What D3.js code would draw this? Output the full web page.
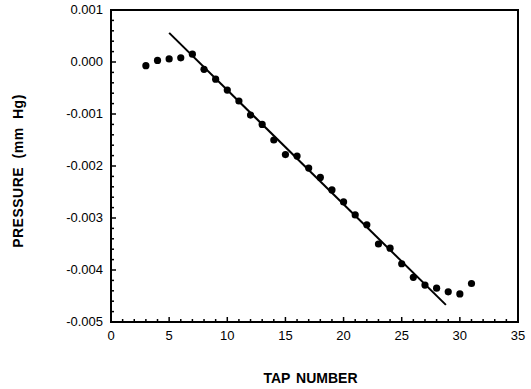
<!DOCTYPE html>
<html>
<head>
<meta charset="utf-8">
<script src="https://cdn.jsdelivr.net/npm/d3@7"></script>
<style>
  body { margin: 0; background: #fff; }
  text { font-family: "Liberation Sans", Arial, sans-serif; fill: #000; }
</style>
</head>
<body>
<div id="chart"></div>
<script>
// tap number vs pressure readings
var tapNumber = [3, 4, 5, 6, 7, 8, 9, 10, 11, 12, 13, 14, 15, 16, 17, 18, 19, 20, 21, 22, 23, 24, 25, 26, 27, 28, 29, 30, 31];
var pressure = [-0.00007, 0.00003, 0.00006, 0.00008, 0.00015, -0.00014, -0.00033, -0.00054, -0.00075, -0.00102,
                -0.0012, -0.0015, -0.00178, -0.00181, -0.00204, -0.00222, -0.00246, -0.00269, -0.00294, -0.00313,
                -0.0035, -0.00358, -0.00388, -0.00414, -0.00429, -0.00435, -0.00442, -0.00446, -0.00426];
// fitted straight line (end points)
var fitX = [5, 28.8];
var fitY = [0.00056, -0.00467];
var xTicks = [0, 5, 10, 15, 20, 25, 30, 35];
var yTicks = [0.001, 0.000, -0.001, -0.002, -0.003, -0.004, -0.005];

const width = 531, height = 389;
const margin = {top: 10, right: 13, bottom: 67, left: 111};

var svg = d3.select("#chart").append("svg")
    .attr("width", width)
    .attr("height", height);

var xScale = d3.scaleLinear().domain([0, 35]).range([margin.left, width - margin.right]);
var yScale = d3.scaleLinear().domain([-0.005, 0.001]).range([height - margin.bottom, margin.top]);

// minor ticks (inside)
var xMinor = d3.range(0, 36, 1);
var yMinor = d3.range(-0.005, 0.00101, 0.0002);

svg.selectAll("line.xminor")
    .data(xMinor)
    .join("line")
        .attr("class", "xminor")
        .attr("x1", d => xScale(d))
        .attr("x2", d => xScale(d))
        .attr("y1", yScale(-0.005))
        .attr("y2", d => yScale(-0.005) - (d % 5 == 0 ? 5 : 3))
        .attr("stroke", "#000")
        .attr("stroke-width", 1.5);

svg.selectAll("line.yminor")
    .data(yMinor)
    .join("line")
        .attr("class", "yminor")
        .attr("x1", xScale(0))
        .attr("x2", (d, i) => xScale(0) + (i % 5 == 0 ? 5 : 3))
        .attr("y1", d => yScale(d))
        .attr("y2", d => yScale(d))
        .attr("stroke", "#000")
        .attr("stroke-width", 1.5);

// frame
svg.append("rect")
    .attr("x", xScale(0))
    .attr("y", yScale(0.001))
    .attr("width", xScale(35) - xScale(0))
    .attr("height", yScale(-0.005) - yScale(0.001))
    .attr("fill", "none")
    .attr("stroke", "#000")
    .attr("stroke-width", 2);

// tick labels
svg.selectAll("text.xlab")
    .data(xTicks)
    .join("text")
        .attr("class", "xlab")
        .attr("x", d => xScale(d))
        .attr("y", yScale(-0.005) + 18)
        .attr("text-anchor", "middle")
        .attr("font-size", "13px")
        .text(d => d);

svg.selectAll("text.ylab")
    .data(yTicks)
    .join("text")
        .attr("class", "ylab")
        .attr("x", xScale(0) - 8)
        .attr("y", d => yScale(d) + 4)
        .attr("text-anchor", "end")
        .attr("font-size", "13px")
        .text(d => d3.format(".3f")(d).replace("−", "-"));

// axis titles
svg.append("text")
    .attr("x", (xScale(0) + xScale(35)) / 2 - 4)
    .attr("y", 383)
    .attr("text-anchor", "middle")
    .attr("font-size", "14px")
    .attr("font-weight", "bold")
    .attr("word-spacing", "2px")
    .text("TAP NUMBER");

svg.append("text")
    .attr("transform", "translate(23," + 171 + ") rotate(-90)")
    .attr("text-anchor", "middle")
    .attr("font-size", "14px")
    .attr("font-weight", "bold")
    .attr("letter-spacing", "0.5px")
    .attr("word-spacing", "4px")
    .text("PRESSURE (mm Hg)");

// fitted line
svg.append("line")
    .attr("x1", xScale(fitX[0]))
    .attr("y1", yScale(fitY[0]))
    .attr("x2", xScale(fitX[1]))
    .attr("y2", yScale(fitY[1]))
    .attr("stroke", "#000")
    .attr("stroke-width", 2);

// points
svg.selectAll("circle.pt")
    .data(tapNumber)
    .join("circle")
        .attr("class", "pt")
        .attr("cx", d => xScale(d))
        .attr("cy", (d, i) => yScale(pressure[i]))
        .attr("r", 3.6)
        .attr("fill", "#000");
</script>
</body>
</html>
